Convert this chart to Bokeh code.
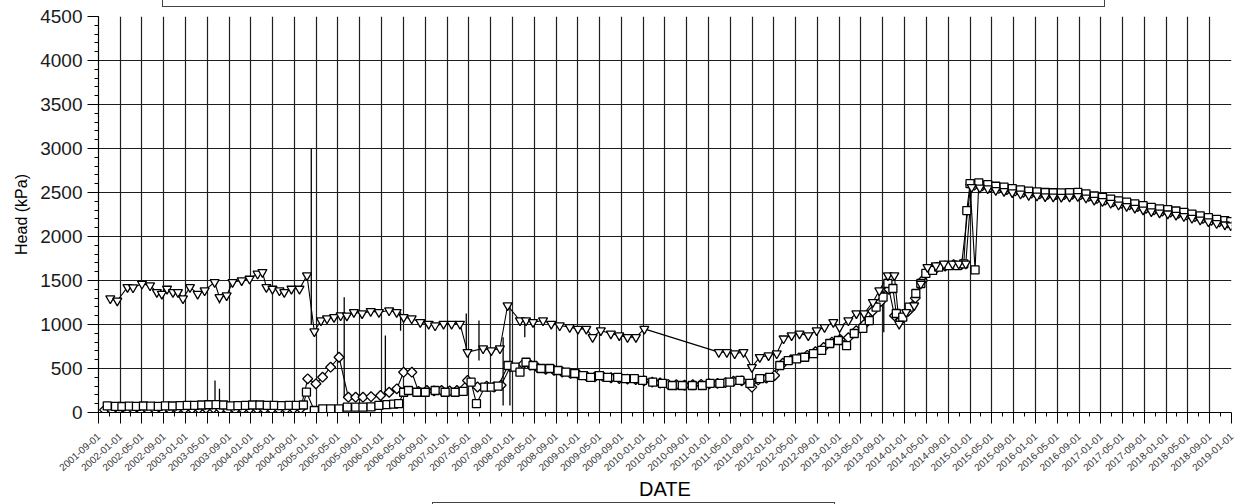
import pandas as pd
from bokeh.plotting import figure
from bokeh.layouts import column
from bokeh.models import (Range1d, FixedTicker, SingleIntervalTicker,
                          DatetimeTickFormatter, ColumnDataSource, Div)
from bokeh.embed import file_html
from bokeh.resources import INLINE

# ---------------- data ----------------
X_START = "2001-09-01"
X_END = "2019-01-01"
tick_dates = [d.strftime("%Y-%m-%d") for d in pd.date_range("2001-09-01", "2019-01-01", freq="4MS")]
minor_tick_dates = [d.strftime("%Y-%m-%d") for d in pd.date_range("2001-11-01", "2018-11-01", freq="4MS")]

tri_dates = ["2001-11-06", "2001-12-15", "2002-02-10", "2002-03-13", "2002-05-02", "2002-06-16", "2002-07-24",
             "2002-08-21", "2002-09-19", "2002-10-22", "2002-11-19", "2002-12-17", "2003-01-25", "2003-03-09",
             "2003-04-17", "2003-06-12", "2003-07-09", "2003-08-18", "2003-09-20", "2003-11-10", "2003-12-24",
             "2004-02-07", "2004-03-05", "2004-03-27", "2004-04-30", "2004-06-08", "2004-07-05", "2004-08-14",
             "2004-09-28", "2004-11-09", "2004-12-20", "2005-01-26", "2005-03-01", "2005-04-09", "2005-05-16",
             "2005-06-20", "2005-07-29", "2005-09-13", "2005-10-31", "2005-12-16", "2006-02-11", "2006-03-25",
             "2006-05-03", "2006-06-17", "2006-08-04", "2006-09-20", "2006-10-26", "2006-12-12", "2007-01-26",
             "2007-03-14", "2007-04-25", "2007-07-21", "2007-09-05", "2007-10-23", "2007-12-05", "2008-02-12",
             "2008-03-17", "2008-04-25", "2008-06-20", "2008-08-05", "2008-09-21", "2008-11-16", "2009-01-01",
             "2009-02-17", "2009-03-24", "2009-05-09", "2009-07-04", "2009-08-20", "2009-10-05", "2009-11-21",
             "2010-01-07", "2011-02-27", "2011-04-13", "2011-05-27", "2011-07-15", "2011-08-31", "2011-10-14",
             "2011-12-02", "2012-01-17", "2012-02-24", "2012-04-09", "2012-05-23", "2012-07-11", "2012-08-27",
             "2012-10-10", "2012-11-28", "2013-01-02", "2013-02-20", "2013-04-06", "2013-05-19", "2013-07-07",
             "2013-08-12", "2013-09-29", "2013-11-04", "2013-12-01", "2014-01-09", "2014-02-23", "2014-04-01",
             "2014-05-08", "2014-06-24", "2014-08-08", "2014-09-25", "2014-10-30", "2014-12-08", "2015-01-10",
             "2015-02-25", "2015-04-10", "2015-05-25", "2015-07-10", "2015-08-25", "2015-10-10", "2015-11-25",
             "2016-01-10", "2016-02-25", "2016-04-10", "2016-05-25", "2016-07-10", "2016-08-25", "2016-10-10",
             "2016-11-25", "2017-01-10", "2017-02-25", "2017-04-10", "2017-05-25", "2017-07-10", "2017-08-25",
             "2017-10-10", "2017-11-25", "2018-01-10", "2018-02-25", "2018-04-10", "2018-05-25", "2018-07-10",
             "2018-08-25", "2018-10-10", "2018-11-25", "2018-12-28"]
tri_vals = [1295, 1270, 1424, 1420, 1462, 1443, 1367,
            1348, 1405, 1367, 1367, 1295, 1424, 1348,
            1386, 1481, 1310, 1330, 1481, 1500, 1519,
            1576, 1595, 1424, 1405, 1386, 1367, 1405,
            1405, 1557, 920, 1045, 1068, 1083, 1102,
            1100, 1140, 1125, 1152, 1140, 1159, 1140,
            1083, 1068, 1026, 1007, 988, 1007, 1007,
            1007, 686, 727, 705, 727, 1216, 1045,
            1045, 1026, 1045, 1007, 988, 970, 950,
            950, 856, 932, 895, 875, 856, 856,
            950, 686, 686, 670, 686, 515, 628,
            648, 670, 840, 875, 895, 875, 932,
            970, 1026, 970, 1045, 1125, 1125, 1254,
            1386, 1557, 1557, 1007, 1140, 1216, 1462,
            1651, 1670, 1690, 1690, 1690, 1690, 2560,
            2555, 2545, 2526, 2515, 2500, 2485, 2470,
            2463, 2455, 2452, 2450, 2453, 2457, 2440,
            2415, 2400, 2380, 2360, 2345, 2325, 2305,
            2285, 2270, 2260, 2245, 2230, 2210, 2190,
            2170, 2150, 2135, 2125]

sq_dates = ["2001-10-20", "2001-12-05", "2002-01-10", "2002-02-20", "2002-04-01", "2002-05-10", "2002-06-20",
            "2002-08-01", "2002-09-10", "2002-10-20", "2002-12-01", "2003-01-10", "2003-02-20", "2003-04-01",
            "2003-05-10", "2003-06-20", "2003-08-01", "2003-09-10", "2003-10-20", "2003-12-01", "2004-01-10",
            "2004-02-20", "2004-04-01", "2004-05-10", "2004-06-20", "2004-08-01", "2004-09-10", "2004-10-20",
            "2004-11-06", "2004-12-20", "2005-02-05", "2005-03-21", "2005-05-07", "2005-06-22", "2005-08-08",
            "2005-09-18", "2005-11-02", "2005-12-16", "2006-01-30", "2006-03-08", "2006-04-05", "2006-05-03",
            "2006-05-30", "2006-07-16", "2006-09-01", "2006-10-26", "2006-12-21", "2007-02-15", "2007-04-01",
            "2007-05-15", "2007-06-14", "2007-07-30", "2007-09-05", "2007-10-13", "2007-12-08", "2008-01-15",
            "2008-02-12", "2008-03-17", "2008-04-25", "2008-06-09", "2008-07-27", "2008-09-12", "2008-10-26",
            "2008-12-14", "2009-01-29", "2009-03-13", "2009-05-01", "2009-06-16", "2009-08-11", "2009-09-25",
            "2009-11-12", "2009-12-28", "2010-02-23", "2010-04-18", "2010-06-12", "2010-08-07", "2010-10-02",
            "2010-11-27", "2011-01-10", "2011-03-05", "2011-04-30", "2011-06-25", "2011-08-20", "2011-10-14",
            "2011-12-09", "2012-02-03", "2012-03-21", "2012-05-07", "2012-06-21", "2012-08-09", "2012-09-24",
            "2012-11-08", "2012-12-26", "2013-02-10", "2013-03-25", "2013-05-12", "2013-06-17", "2013-07-25",
            "2013-09-02", "2013-09-29", "2013-10-27", "2013-11-15", "2013-12-21", "2014-01-26", "2014-03-04",
            "2014-04-01", "2014-04-29", "2014-06-06", "2014-07-10", "2014-09-05", "2014-10-23", "2014-11-27",
            "2014-12-14", "2015-01-01", "2015-01-29", "2015-02-19", "2015-04-10", "2015-05-25", "2015-07-10",
            "2015-08-25", "2015-10-10", "2015-11-25", "2016-01-10", "2016-02-25", "2016-04-10", "2016-05-25",
            "2016-07-10", "2016-08-25", "2016-10-10", "2016-11-25", "2017-01-10", "2017-02-25", "2017-04-10",
            "2017-05-25", "2017-07-10", "2017-08-25", "2017-10-10", "2017-11-25", "2018-01-10", "2018-02-25",
            "2018-04-10", "2018-05-25", "2018-07-10", "2018-08-25", "2018-10-10", "2018-11-25", "2018-12-28"]
sq_vals = [75, 70, 68, 72, 70, 74, 72,
           70, 76, 74, 78, 80, 82, 85,
           88, 90, 85, 75, 78, 82, 85,
           85, 82, 80, 78, 80, 82, 85,
           231, 23, 42, 42, 42, 60, 60,
           60, 65, 80, 90, 95, 100, 230,
           250, 230, 230, 250, 230, 230, 240,
           345, 100, 288, 288, 300, 534, 515,
           458, 571, 534, 500, 500, 477, 458,
           443, 420, 400, 420, 400, 400, 386,
           386, 364, 345, 330, 307, 307, 307,
           307, 330, 330, 345, 364, 330, 386,
           400, 534, 590, 610, 628, 670, 705,
           784, 818, 761, 898, 955, 1045, 1197,
           1310, 1466, 1409, 1125, 1083, 1197, 1352,
           1466, 1580, 1614, 1651, 1670, 1670, 1690,
           2295, 2600, 1620, 2610, 2590, 2571, 2560,
           2545, 2530, 2515, 2508, 2500, 2497, 2495,
           2498, 2502, 2485, 2460, 2445, 2425, 2405,
           2390, 2370, 2350, 2330, 2315, 2305, 2290,
           2275, 2255, 2235, 2215, 2195, 2180, 2170]

dia_dates = ["2001-10-05", "2001-11-15", "2001-12-25", "2002-02-05", "2002-03-15", "2002-04-25", "2002-06-05",
             "2002-07-15", "2002-08-25", "2002-10-05", "2002-11-15", "2002-12-25", "2003-02-05", "2003-03-15",
             "2003-04-25", "2003-06-05", "2003-07-15", "2003-08-25", "2003-10-05", "2003-11-15", "2003-12-25",
             "2004-02-05", "2004-03-15", "2004-04-25", "2004-06-05", "2004-07-15", "2004-08-25", "2004-10-05",
             "2004-11-13", "2004-12-29", "2005-02-04", "2005-03-21", "2005-05-07", "2005-06-28", "2005-08-08",
             "2005-09-18", "2005-11-02", "2005-12-25", "2006-02-11", "2006-03-26", "2006-05-03", "2006-06-18",
             "2006-07-25", "2006-09-10", "2006-10-20", "2006-12-01", "2007-01-15", "2007-02-25", "2007-04-25",
             "2007-06-20", "2007-08-10", "2007-09-20", "2007-10-30", "2007-12-20", "2008-02-01", "2008-03-01",
             "2008-04-10", "2008-05-20", "2008-07-05", "2008-08-20", "2008-10-05", "2008-11-20", "2009-01-05",
             "2009-02-20", "2009-04-05", "2009-05-20", "2009-07-05", "2009-08-20", "2009-10-05", "2009-11-20",
             "2010-01-05", "2010-02-20", "2010-04-05", "2010-05-20", "2010-07-05", "2010-08-20", "2010-10-05",
             "2010-11-20", "2011-01-05", "2011-02-20", "2011-04-05", "2011-05-20", "2011-07-05", "2011-08-31",
             "2011-10-05", "2011-11-20", "2012-01-05", "2012-02-20", "2012-04-05", "2012-05-20", "2012-07-05",
             "2012-08-20", "2012-10-05", "2012-11-20", "2013-01-05", "2013-02-20", "2013-04-05", "2013-05-20",
             "2013-07-05", "2013-08-20", "2013-10-05", "2013-11-05", "2013-12-10", "2014-01-20", "2014-03-01",
             "2014-04-10", "2014-05-20", "2014-07-01", "2014-08-15", "2014-10-01", "2014-11-15", "2015-01-05",
             "2015-01-25", "2015-03-10", "2015-04-25", "2015-06-10", "2015-07-25", "2015-09-10", "2015-10-25",
             "2015-12-10", "2016-01-25", "2016-03-10", "2016-04-25", "2016-06-10", "2016-07-25", "2016-09-10",
             "2016-10-25", "2016-12-10", "2017-01-25", "2017-03-10", "2017-04-25", "2017-06-10", "2017-07-25",
             "2017-09-10", "2017-10-25", "2017-12-10", "2018-01-25", "2018-03-10", "2018-04-25", "2018-06-10",
             "2018-07-25", "2018-09-10", "2018-10-25", "2018-12-10"]
dia_vals = [30, 28, 32, 30, 35, 30, 28,
            32, 30, 35, 38, 40, 42, 45,
            48, 50, 40, 30, 35, 40, 42,
            40, 38, 36, 38, 40, 42, 45,
            383, 326, 401, 515, 628, 174, 174,
            174, 180, 193, 230, 269, 458, 458,
            240, 250, 245, 250, 245, 250, 364,
            290, 300, 290, 310, 520, 500, 550,
            540, 510, 490, 480, 460, 445, 430,
            410, 405, 410, 395, 385, 380, 375,
            360, 345, 335, 320, 315, 310, 315,
            320, 325, 330, 340, 355, 360, 288,
            370, 390, 420, 560, 600, 620, 650,
            690, 740, 800, 830, 850, 930, 1000,
            1150, 1260, 1400, 1100, 1050, 1150, 1300,
            1500, 1620, 1650, 1665, 1680, 1685, 2590,
            2583, 2575, 2560, 2546, 2533, 2518, 2503,
            2492, 2484, 2478, 2476, 2476, 2480, 2475,
            2455, 2433, 2415, 2395, 2378, 2360, 2340,
            2320, 2303, 2290, 2278, 2262, 2245, 2225,
            2205, 2185, 2168, 2155]

# short vertical excursions in the record
spike_dates = ["2003-06-14", "2003-07-09", "2003-07-09", "2004-12-03", "2005-06-05", "2006-01-21",
               "2006-04-16", "2007-04-18", "2007-06-28", "2007-11-10", "2007-12-18", "2008-03-10",
               "2013-09-06"]
spike_from = [80, 80, 1310, 1000, 174, 193, 930, 686, 590, 80, 80, 856, 912]
spike_to = [364, 270, 1240, 3000, 1310, 875, 1140, 1125, 1045, 856, 1216, 1045, 1386]

# ---------------- figure ----------------
def ms(s):
    return pd.Timestamp(s).value / 1e6

FONT = "Liberation Sans"

p = figure(width=1238, height=495, x_axis_type="datetime", output_backend="svg",
           toolbar_location=None,
           x_range=Range1d(ms(X_START), ms(X_END)), y_range=Range1d(0, 4500),
           min_border_left=98, min_border_right=7, min_border_top=9, min_border_bottom=90,
           margin=0)
p.outline_line_color = None
p.background_fill_color = "white"
p.border_fill_color = "white"

major = [ms(d) for d in tick_dates]
minor = [ms(d) for d in minor_tick_dates]
p.xaxis.ticker = FixedTicker(ticks=major, minor_ticks=minor)
p.xgrid.ticker = FixedTicker(ticks=major)
fmt = "%Y-%m-%d"
p.xaxis.formatter = DatetimeTickFormatter(microseconds=fmt, milliseconds=fmt, seconds=fmt, minsec=fmt,
                                          minutes=fmt, hourmin=fmt, hours=fmt, days=fmt, months=fmt,
                                          years=fmt)
yt = SingleIntervalTicker(interval=500, num_minor_ticks=5)
p.yaxis.ticker = yt
p.ygrid.ticker = yt

for g in (p.xgrid[0], p.ygrid[0]):
    g.grid_line_color = "#1e1e1e"
    g.grid_line_width = 1.2

for ax in (p.xaxis[0], p.yaxis[0]):
    ax.axis_line_color = "black"
    ax.axis_line_width = 1.2
    ax.major_tick_line_color = "black"
    ax.minor_tick_line_color = "black"
    ax.major_tick_in = 0
    ax.minor_tick_in = 0
    ax.major_label_text_font = FONT
    ax.axis_label_text_font = FONT
    ax.axis_label_text_font_style = "normal"
    ax.axis_label_text_color = "black"

p.xaxis.major_tick_out = 11
p.xaxis.minor_tick_out = 4
p.xaxis.major_label_orientation = 0.73
p.xaxis.major_label_text_font_size = "10px"
p.xaxis.major_label_text_color = "#333333"
p.xaxis.major_label_standoff = 11
p.xaxis.axis_label = "DATE"
p.xaxis.axis_label_text_font_size = "20px"
p.xaxis.axis_label_standoff = 0

p.yaxis.major_tick_out = 11
p.yaxis.minor_tick_out = 4
p.yaxis.major_label_text_font_size = "19px"
p.yaxis.major_label_text_color = "#1a1a1a"
p.yaxis.major_label_standoff = 5
p.yaxis.axis_label = "Head (kPa)"
p.yaxis.axis_label_text_font_size = "16px"
p.yaxis.axis_label_standoff = 7

tri = ColumnDataSource(dict(x=pd.to_datetime(tri_dates), y=tri_vals))
sq = ColumnDataSource(dict(x=pd.to_datetime(sq_dates), y=sq_vals))
dia = ColumnDataSource(dict(x=pd.to_datetime(dia_dates), y=dia_vals))
spk = ColumnDataSource(dict(x=pd.to_datetime(spike_dates), y0=spike_from, y1=spike_to))

p.segment(x0="x", y0="y0", x1="x", y1="y1", source=spk, line_color="black", line_width=1.3)
for src in (tri, sq, dia):
    p.line("x", "y", source=src, line_color="black", line_width=1.1)

p.scatter("x", "y", source=dia, marker="square", angle=0.785, size=7,
          line_color="black", fill_color="white", line_width=1.3)
p.scatter("x", "y", source=sq, marker="square", size=8,
          line_color="black", fill_color="white", line_width=1.3)
p.scatter("x", "y", source=tri, marker="inverted_triangle", size=9,
          line_color="black", fill_color="white", line_width=1.3)

# partial legend frames, cut by the picture's top and bottom edges
top_box = Div(text="", width=943, height=7, margin=(0, 0, 0, 162),
              styles={"border": "1px solid #444444", "border-top": "none",
                      "box-sizing": "border-box"})
bottom_box = Div(text="", width=403, height=2, margin=(0, 0, 0, 432),
                 styles={"border": "1px solid #444444", "border-bottom": "none",
                         "box-sizing": "border-box"})

layout = column(top_box, p, bottom_box, spacing=0, margin=0)

open("out.html", "w").write(file_html(layout, INLINE))
